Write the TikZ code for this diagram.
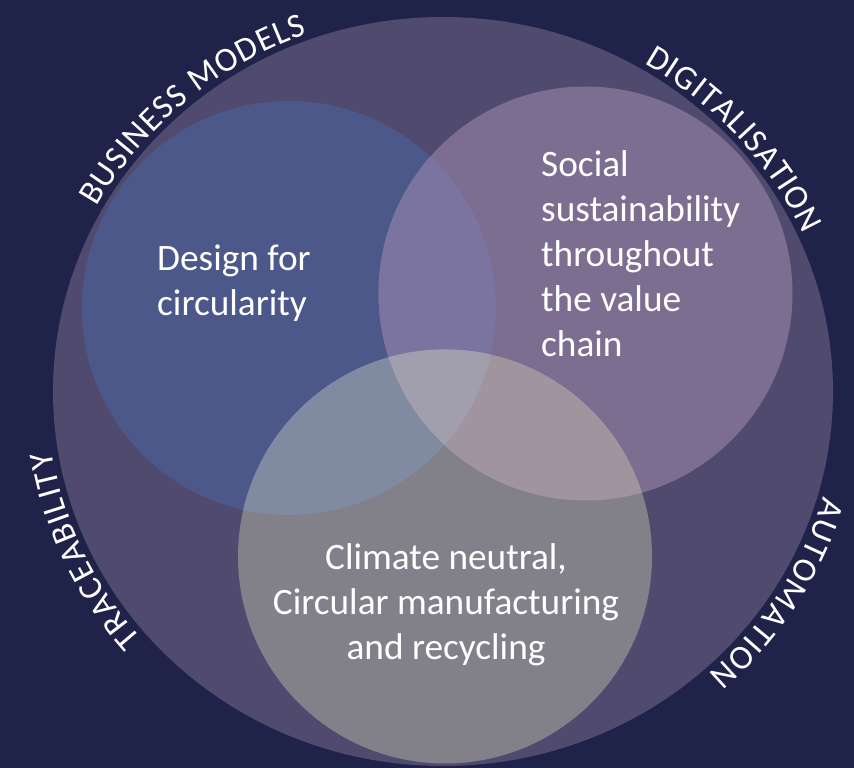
\documentclass[tikz,border=0pt]{standalone}
\usepackage{fontspec}
\setmainfont{Carlito}
\usetikzlibrary{decorations.text}
\definecolor{bgc}{RGB}{31,35,73}
\definecolor{outerc}{RGB}{80,74,110}
\definecolor{cblue}{RGB}{75,88,137}
\definecolor{cpurple}{RGB}{123,110,144}
\definecolor{cgray}{RGB}{130,129,138}
\definecolor{cbp}{RGB}{123,116,160}
\definecolor{cbg}{RGB}{128,138,160}
\definecolor{cpg}{RGB}{160,149,159}
\definecolor{call}{RGB}{161,159,173}
\newcommand{\arcfont}{\color{white}\fontsize{34}{34}\selectfont}
\begin{document}
\begin{tikzpicture}[x=1pt,y=1pt,
  venn/.style={circle,minimum size=414pt,inner sep=0pt,outer sep=0pt,draw=none},
  bodytext/.style={text=white,font=\fontsize{37.3}{45}\selectfont,inner sep=0pt},
  arctext/.style={decorate,decoration={text along path,text align={fit to path},text={|\arcfont|#1}}}]
\fill[bgc] (0,0) rectangle (854,768);
\useasboundingbox (0,0) rectangle (854,768);
\coordinate (C) at (443,376.5);
\fill[outerc] (C) ellipse [x radius=390, y radius=374.5];
\node[venn,fill=cblue] (blue) at (289,460) {};
\node[venn,fill=cpurple] (purple) at (585.5,474.5) {};
\node[venn,fill=cgray] (gray) at (445,211.5) {};
\begin{scope}
  \clip (blue.center) circle[radius=207];
  \fill[cbp] (purple.center) circle[radius=207];
  \fill[cbg] (gray.center) circle[radius=207];
\end{scope}
\begin{scope}
  \clip (purple.center) circle[radius=207];
  \fill[cpg] (gray.center) circle[radius=207];
\end{scope}
\begin{scope}
  \clip (blue.center) circle[radius=207];
  \clip (purple.center) circle[radius=207];
  \fill[call] (gray.center) circle[radius=207];
\end{scope}
% body texts (base anchor = baseline of last line)
\node[bodytext,align=left,anchor=base west] (t1) at (157,452.5) {Design for\\circularity};
\node[bodytext,align=left,anchor=base west] (t2) at (541,411) {Social\\sustainability\\throughout\\the value\\chain};
\node[bodytext,align=center,anchor=base] (t3) at (446,108.5) {Climate neutral,\\Circular manufacturing\\and recycling};
% arc texts
\path[arctext={BUSINESS MODELS}] (C) ++(151:396 and 380.5) arc[start angle=151,end angle=110,x radius=396,y radius=380.5];
\path[arctext={DIGITALISATION}] (C) ++(59.5:396 and 380.5) arc[start angle=59.5,end angle=24.5,x radius=396,y radius=380.5];
\path[arctext={AUTOMATION}] (C) ++(-16:396 and 380.5) arc[start angle=-16,end angle=-48,x radius=396,y radius=380.5];
\path[arctext={TRACEABILITY}] (C) ++(220.5:396 and 380.5) arc[start angle=220.5,end angle=189,x radius=396,y radius=380.5];
\end{tikzpicture}
\end{document}
